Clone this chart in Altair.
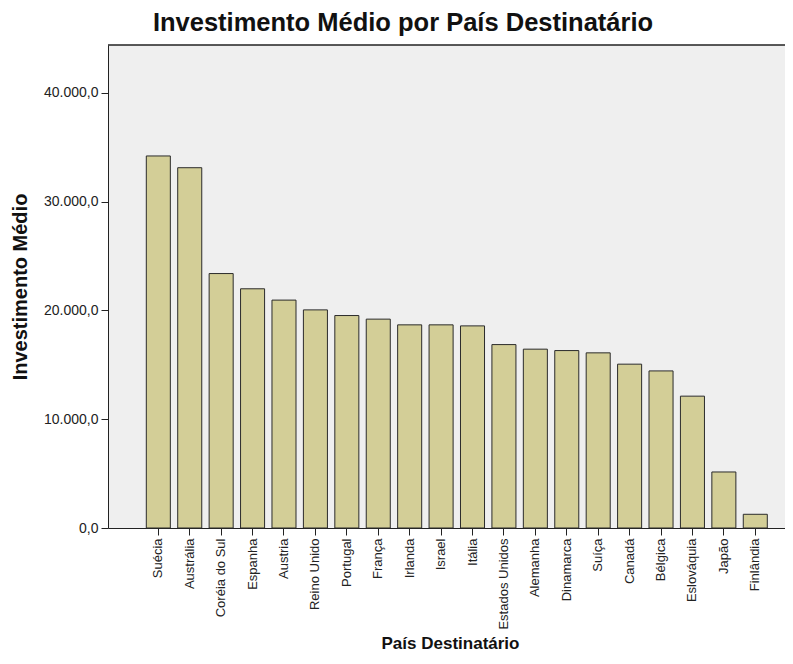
import altair as alt
import pandas as pd

paises = ["Suécia", "Austrália", "Coréia do Sul", "Espanha", "Austria", "Reino Unido",
          "Portugal", "França", "Irlanda", "Israel", "Itália", "Estados Unidos",
          "Alemanha", "Dinamarca", "Suíça", "Canadá", "Bélgica", "Eslováquia",
          "Japão", "Finlândia"]
investimento = [34200, 33120, 23390, 21990, 20950, 20050, 19530, 19200, 18675, 18675,
                18580, 16860, 16440, 16310, 16100, 15060, 14440, 12120, 5150, 1260]
y_ticks = [0, 10000, 20000, 30000, 40000]

df = pd.DataFrame({"pais": paises, "valor": investimento})

W, H = 677, 483

label_expr = ("replace(replace(replace(format(datum.value, ',.1f'), ',', '#'), '.', ','), '#', '.')")

bars = alt.Chart(df).mark_bar(
    color="#D3CE97", stroke="#2b2b2b", strokeWidth=1
).encode(
    x=alt.X("pais:N", sort=paises,
            scale=alt.Scale(paddingInner=0.235, paddingOuter=0.891, align=0.684, round=False),
            axis=alt.Axis(title="País Destinatário", labelAngle=-90, labelFontSize=13,
                          labelFont="Liberation Sans", labelColor="#222", labelPadding=3,
                          tickSize=7, tickColor="#222", domainColor="#222",
                          titleFont="Liberation Sans", titleFontSize=17, titleFontWeight="bold",
                          titleColor="#111", titleX=342, titleY=120,
                          titleBaseline="alphabetic", titleAlign="center")),
    y=alt.Y("valor:Q",
            scale=alt.Scale(domain=[0, 44400], nice=False, zero=True),
            axis=alt.Axis(title="Investimento Médio", values=y_ticks, labelExpr=label_expr,
                          labelFontSize=14, labelFont="Liberation Sans", labelColor="#222",
                          labelPadding=3, tickSize=7, tickColor="#222", domainColor="#222",
                          grid=False, titleFont="Liberation Sans", titleFontSize=20,
                          titleFontWeight="bold", titleColor="#111", titleAngle=-90,
                          titleX=-88, titleY=H / 2, titleBaseline="middle",
                          titleAlign="center")),
)

top_border = alt.Chart(pd.DataFrame({"k": [0]})).mark_rule(
    color="#222", strokeWidth=1.5
).encode(y=alt.value(0), x=alt.value(0), x2=alt.value(W))

chart = alt.layer(bars, top_border).properties(
    width=W, height=H,
    title=alt.TitleParams("Investimento Médio por País Destinatário", font="Liberation Sans",
                          fontSize=25.5, fontWeight="bold", color="#111", anchor="middle",
                          frame="group", dx=-43.5, dy=24, baseline="alphabetic", offset=12),
    autosize=alt.AutoSizeParams(type="none"),
    padding={"left": 100, "top": 37, "right": 0, "bottom": 124},
).configure_view(fill="#EFEFEF", stroke=None)

chart.save("out.html", embed_options={"renderer": "svg", "actions": False})
